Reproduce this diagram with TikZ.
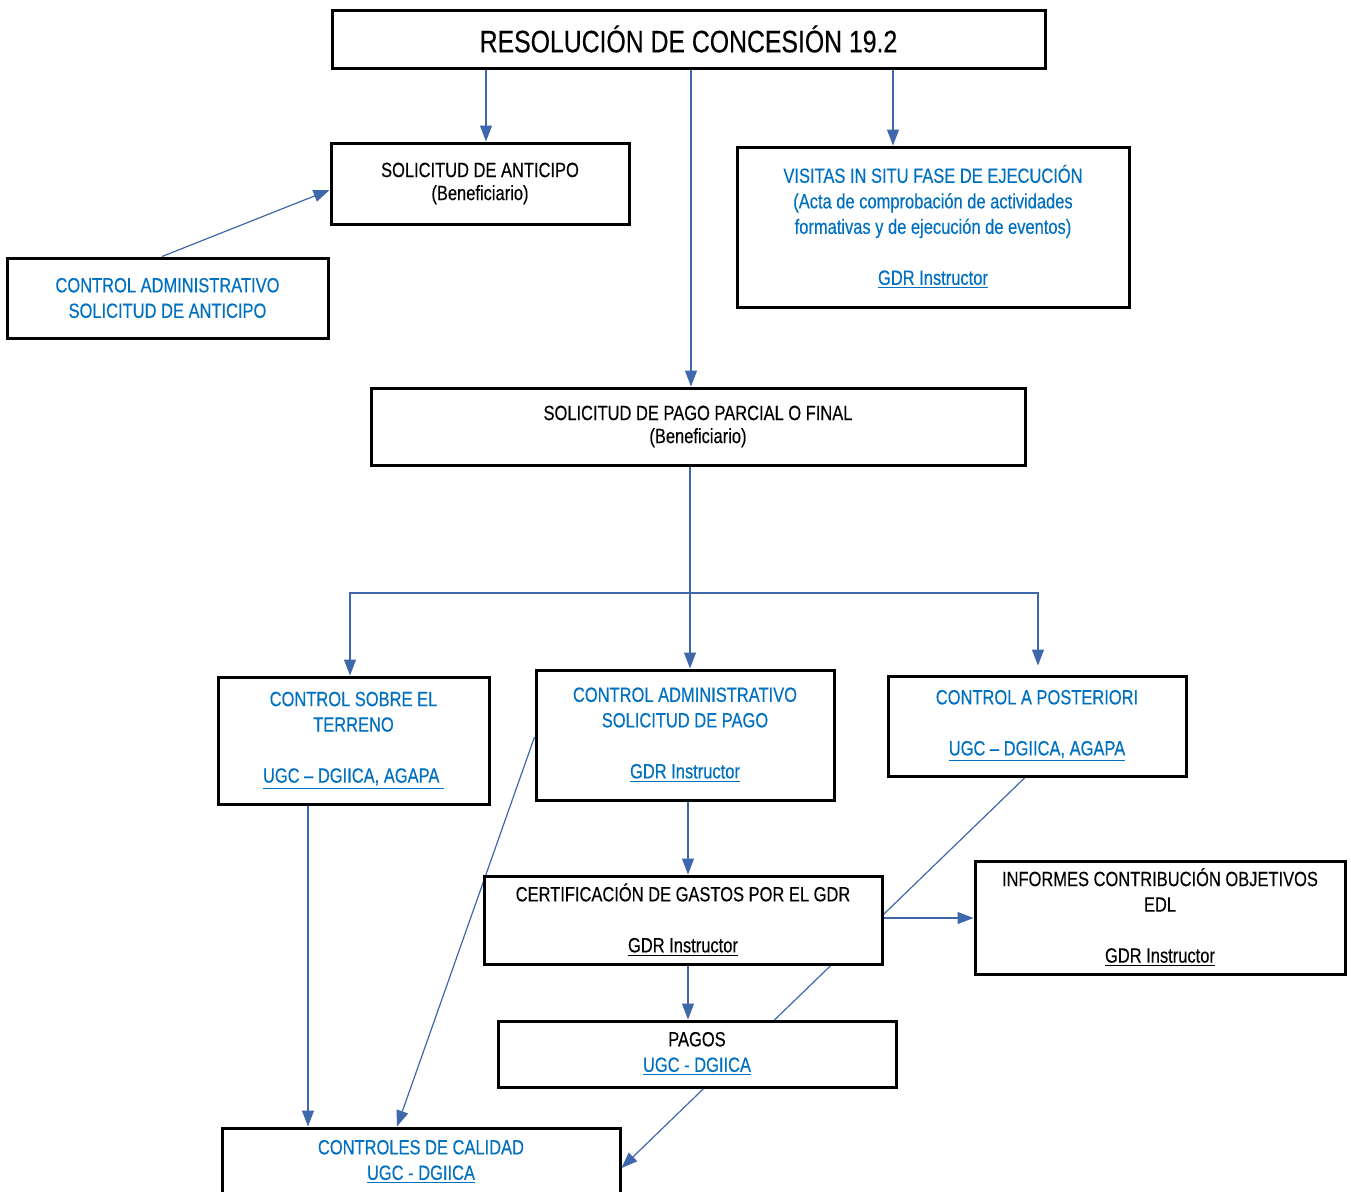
\documentclass[tikz,border=0pt]{standalone}
\usepackage{fontspec}
\setmainfont{Liberation Sans}[FakeStretch=0.8, FakeBold=0.3]
\usetikzlibrary{arrows.meta}

\definecolor{txtblue}{RGB}{0,112,192}
\definecolor{lineblue}{RGB}{62,103,172}

\pgfdeclarelayer{back}
\pgfsetlayers{back,main}

\tikzset{
	box/.style={draw, line width=1.5pt, fill=white, align=center, inner sep=0pt,
		font=\fontsize{10.3}{12.75}\selectfont},
	bluebox/.style={box, text=txtblue},
	link/.style={draw=lineblue, line width=0.6pt},
	arr/.style={link, -{Triangle[length=8pt,width=6pt]}},
}

\newcommand\gap{\\[12.75pt]}
\newcommand\benef{(Beneficiario)}

\begin{document}
\begin{tikzpicture}[x=0.5pt, y=-0.5pt]

	\useasboundingbox (0,0) rectangle (1351,1191);

	\node[box, minimum width=356.5pt, minimum height=29pt, font=\fontsize{15.5}{18}\selectfont] at (688.5,39) (resol) {RESOLUCIÓN DE CONCESIÓN 19.2};
	\node[box, minimum width=149pt, minimum height=40.5pt] at (480,183.5) (anticipo) {SOLICITUD DE ANTICIPO\\[-1.25pt]\benef};
	\node[bluebox, minimum width=160.5pt, minimum height=40pt] at (167.5,298) (ctrlant) {CONTROL ADMINISTRATIVO\\SOLICITUD DE ANTICIPO};
	\node[bluebox, minimum width=196pt, minimum height=80pt] at (933,227) (visitas) {VISITAS IN SITU FASE DE EJECUCIÓN\\(Acta de comprobación de actividades\\formativas y de ejecución de eventos)\gap\underline{GDR Instructor}};
	\node[box, minimum width=327pt, minimum height=38.5pt] at (698,426.5) (pago) {SOLICITUD DE PAGO PARCIAL O FINAL\\[-1.25pt]\benef};

	\node[bluebox, minimum width=135.5pt, minimum height=63.5pt] at (353.5,740.5) (terreno) {CONTROL SOBRE EL\\TERRENO\gap\underline{UGC – DGIICA, AGAPA\ }};
	\node[bluebox, minimum width=149pt, minimum height=65pt] at (685,735) (ctrlpago) {CONTROL ADMINISTRATIVO\\SOLICITUD DE PAGO\gap\underline{GDR Instructor}};
	\node[bluebox, minimum width=149pt, minimum height=50pt] at (1037,726) (posterior) {CONTROL A POSTERIORI\gap\underline{UGC – DGIICA, AGAPA}};

	\node[box, minimum width=199pt, minimum height=44pt] at (683,920) (certif) {CERTIFICACIÓN DE GASTOS POR EL GDR\gap\underline{GDR Instructor}};
	\node[box, minimum width=185pt, minimum height=56.5pt] at (1160,917.5) (informes) {INFORMES CONTRIBUCIÓN OBJETIVOS\\EDL\gap\underline{GDR Instructor}};
	\node[box, minimum width=199pt, minimum height=33pt] at (697,1054) (pagos) {PAGOS\\{\color{txtblue}\underline{UGC - DGIICA}}};
	\node[bluebox, minimum width=199pt, minimum height=34pt] at (421,1162) (calidad) {CONTROLES DE CALIDAD\\\underline{UGC - DGIICA}};

	\coordinate (split) at (690,593);

	\begin{pgfonlayer}{back}
		% desde la resolucion
		\draw[arr] ([xshift=3pt]anticipo.north |- resol.south) -- ([xshift=3pt]anticipo.north);
		\draw[arr] ([xshift=-3.5pt]pago.north |- resol.south) -- ([xshift=-3.5pt]pago.north);
		\draw[arr] ([xshift=-20pt]visitas.north |- resol.south) -- ([xshift=-20pt]visitas.north);
		\draw[arr] ([xshift=-2.75pt]ctrlant.north) -- ([yshift=-3.25pt]anticipo.west);

		% controles del pago
		\draw[link] ([xshift=-4pt]pago.south) -- (split);
		\draw[arr] (split) -| ([xshift=-1.75pt]terreno.north);
		\draw[arr] (split) -- ([xshift=2.5pt]ctrlpago.north);
		\draw[arr, shorten >=4.5pt] (split) -| ([xshift=0.5pt]posterior.north);

		\draw[arr] ([xshift=-22.75pt]terreno.south) -- ([xshift=-22.75pt]terreno.south |- calidad.north);
		\draw[arr] ([yshift=-1pt]ctrlpago.west) -- ([xshift=-12pt]calidad.north);
		\draw[arr] ([xshift=1.5pt]ctrlpago.south) -- ([xshift=1.5pt]ctrlpago.south |- certif.north);
		\draw[arr] ([xshift=-6pt]posterior.south) -- ([yshift=-3pt]calidad.east);
		\draw[arr] ([yshift=1pt]certif.east) -- ([yshift=1pt]certif.east -| informes.west);
		\draw[arr] ([xshift=2.5pt]certif.south) -- ([xshift=2.5pt]certif.south |- pagos.north);
	\end{pgfonlayer}

\end{tikzpicture}
\end{document}
